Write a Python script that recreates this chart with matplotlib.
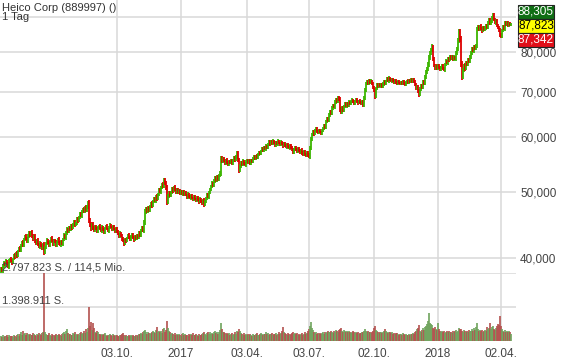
import matplotlib
matplotlib.use("Agg")
import matplotlib.pyplot as plt
import numpy as np
from matplotlib.patches import Rectangle
from matplotlib.ticker import NullLocator

plt.rcParams["font.family"] = ["Liberation Sans", "DejaVu Sans"]

# daily closes (EUR), one per trading day
closes = [
    38.6, 38.3, 38.9, 39.4, 39.1, 39.6, 39.2, 38.9, 39.5, 39.9,
    39.6, 39.3, 39.9, 40.4, 40.2, 40.7, 40.3, 40.9, 41.4, 41.1,
    41.7, 42.2, 41.8, 42.5, 43.1, 42.7, 42.3, 43.0, 43.6, 43.2,
    43.6, 43.1, 42.6, 43.0, 42.4, 42.0, 42.5, 41.9, 41.5, 42.0,
    41.7, 41.3, 41.8, 40.8, 41.4, 42.0, 42.5, 42.1, 41.7, 42.3,
    42.8, 42.4, 41.9, 42.5, 42.2, 41.7, 42.2, 42.6, 42.1, 41.8,
    42.3, 41.9, 42.6, 43.2, 42.8, 43.5, 44.1, 43.7, 44.3, 44.0,
    44.6, 44.2, 44.8, 45.2, 44.7, 45.0, 45.6, 45.3, 45.9, 46.4,
    46.1, 46.7, 47.2, 46.8, 47.4, 47.0, 47.6, 48.1, 45.4, 44.7,
    44.2, 44.8, 44.3, 43.9, 44.5, 44.1, 43.7, 44.3, 44.6, 44.2,
    43.8, 44.4, 44.0, 43.6, 44.2, 44.6, 44.1, 43.8, 44.3, 44.7,
    44.4, 44.0, 44.5, 44.1, 43.7, 44.2, 43.8, 43.4, 43.0, 43.5,
    43.1, 42.7, 42.4, 42.0, 42.6, 42.3, 42.8, 43.2, 42.9, 42.5,
    43.0, 43.3, 42.8, 42.5, 43.0, 42.7, 43.2, 42.9, 43.5, 43.2,
    43.8, 44.3, 43.9, 45.1, 46.7, 47.2, 46.8, 47.4, 47.0, 47.6,
    48.1, 47.7, 48.4, 48.9, 48.5, 49.2, 48.8, 49.6, 50.4, 50.0,
    50.7, 51.3, 50.9, 52.1, 51.5, 50.6, 48.3, 49.2, 49.8, 49.3,
    49.9, 50.5, 50.1, 50.8, 50.4, 49.9, 50.3, 49.8, 50.2, 49.7,
    50.1, 49.6, 50.0, 49.5, 49.9, 49.4, 49.1, 49.6, 49.2, 48.9,
    49.4, 49.0, 48.7, 49.2, 48.8, 48.5, 49.0, 48.6, 48.3, 48.8,
    48.4, 48.1, 48.6, 47.9, 48.4, 48.9, 49.5, 49.1, 49.8, 50.4,
    50.9, 51.5, 51.1, 51.8, 52.4, 52.0, 52.6, 52.2, 52.8, 53.2,
    56.0, 55.4, 55.9, 55.5, 55.0, 55.6, 55.2, 54.8, 55.4, 55.1,
    55.5, 55.0, 55.6, 56.1, 55.7, 56.3, 56.9, 55.5, 53.7, 54.5,
    55.2, 54.8, 55.4, 55.0, 54.7, 55.3, 55.6, 55.1, 55.5, 55.0,
    55.6, 55.3, 55.9, 56.3, 55.9, 56.4, 56.1, 56.7, 57.1, 56.8,
    57.3, 57.8, 57.4, 58.0, 57.7, 58.3, 58.0, 58.6, 59.1, 58.7,
    59.2, 58.8, 59.3, 58.9, 58.5, 59.1, 58.7, 59.3, 58.9, 58.6,
    59.1, 58.7, 58.3, 58.8, 58.4, 58.1, 58.6, 58.2, 57.9, 58.4,
    58.0, 57.6, 57.1, 57.7, 58.0, 57.6, 57.3, 57.8, 57.4, 57.1,
    57.5, 57.0, 56.7, 57.2, 56.8, 56.5, 57.0, 56.6, 56.3, 57.9,
    59.7, 60.6, 61.2, 60.7, 61.4, 61.8, 61.3, 61.0, 61.5, 61.1,
    60.8, 61.4, 61.9, 62.5, 62.1, 63.3, 64.0, 63.6, 64.7, 65.5,
    65.1, 66.2, 66.9, 66.5, 67.6, 68.2, 67.8, 68.6, 68.1, 66.0,
    65.4, 66.3, 65.8, 66.6, 67.2, 66.7, 67.3, 66.9, 67.6, 67.2,
    67.7, 68.1, 67.6, 67.3, 67.9, 68.2, 67.7, 67.4, 67.9, 67.5,
    67.2, 67.7, 66.9, 68.6, 70.4, 71.9, 72.5, 72.0, 72.7, 72.2,
    72.6, 71.9, 71.0, 70.3, 68.9, 70.8, 71.7, 71.2, 71.8, 71.3,
    71.7, 71.2, 71.9, 72.4, 72.0, 72.6, 73.1, 72.6, 73.3, 72.9,
    72.5, 73.0, 72.6, 72.2, 72.7, 72.3, 71.9, 72.5, 72.1, 71.8,
    72.3, 71.9, 72.4, 72.0, 71.7, 72.2, 72.6, 72.2, 72.8, 72.4,
    72.9, 72.5, 72.9, 72.3, 71.7, 70.8, 71.2, 70.1, 69.3, 70.6,
    71.5, 71.0, 72.3, 72.0, 73.5, 74.9, 75.6, 76.8, 78.5, 79.7,
    80.6, 81.4, 78.1, 76.4, 75.6, 76.3, 75.8, 76.5, 75.9, 75.4,
    75.9, 76.4, 75.7, 75.3, 76.7, 77.6, 77.1, 78.3, 77.9, 78.8,
    78.3, 78.8, 78.1, 78.6, 78.2, 79.7, 80.9, 83.1, 85.8, 83.5,
    77.0, 73.5, 75.2, 76.5, 75.6, 77.2, 76.7, 78.1, 77.5, 78.7,
    79.7, 80.9, 80.3, 81.5, 80.9, 81.8, 86.4, 87.2, 86.4, 87.3,
    86.6, 85.9, 86.9, 86.2, 86.8, 87.5, 87.0, 88.2, 89.1, 88.1,
    88.7, 89.7, 90.7, 89.3, 88.2, 88.9, 87.6, 86.9, 86.1, 84.8,
    84.5, 85.9, 87.1, 86.5, 88.4, 87.7, 88.3, 87.5, 88.2, 87.6,
    87.823,
]
first_open = 38.2

# daily high-low span beyond the body, tenths of a percent
spans = [
    12, 8, 15, 10, 6, 14, 9, 11, 16, 7,
    10, 13, 6, 9, 14, 8, 12, 10, 7, 15,
    11, 9, 13, 16, 8, 12, 10, 14, 9, 11,
    7, 13, 10, 8, 15, 11, 9, 12, 6, 14,
    10, 8, 12, 22, 11, 9, 13, 7, 10, 12,
    8, 11, 14, 9, 6, 12, 10, 8, 13, 9,
    11, 7, 10, 14, 9, 12, 15, 8, 11, 10,
    9, 12, 7, 10, 13, 8, 11, 14, 9, 12,
    10, 13, 8, 12, 9, 14, 11, 15, 20, 16,
    18, 10, 14, 9, 12, 8, 11, 10, 7, 9,
    8, 11, 7, 10, 12, 6, 9, 8, 11, 10,
    7, 9, 12, 8, 10, 6, 11, 9, 8, 12,
    10, 13, 9, 14, 8, 11, 7, 10, 12, 9,
    8, 10, 7, 11, 9, 12, 8, 10, 13, 11,
    12, 9, 14, 16, 18, 11, 13, 9, 12, 10,
    11, 14, 10, 12, 9, 13, 15, 10, 12, 11,
    13, 10, 14, 12, 11, 15, 22, 14, 12, 10,
    9, 12, 10, 8, 11, 9, 13, 10, 8, 11,
    10, 8, 12, 9, 11, 7, 10, 13, 9, 8,
    11, 9, 7, 12, 10, 8, 11, 9, 13, 10,
    9, 12, 8, 14, 10, 11, 13, 9, 12, 10,
    11, 13, 9, 12, 14, 10, 12, 11, 13, 12,
    16, 12, 10, 9, 11, 8, 12, 10, 9, 11,
    10, 12, 9, 11, 13, 10, 14, 12, 18, 13,
    11, 9, 12, 8, 10, 12, 9, 11, 8, 10,
    9, 11, 8, 10, 12, 9, 11, 8, 10, 9,
    11, 8, 10, 12, 9, 13, 10, 9, 11, 12,
    10, 8, 11, 9, 12, 10, 8, 11, 9, 10,
    12, 10, 14, 9, 11, 8, 10, 12, 9, 11,
    10, 12, 14, 9, 11, 8, 10, 12, 9, 11,
    10, 12, 9, 11, 13, 8, 10, 12, 11, 14,
    16, 12, 10, 11, 9, 12, 10, 8, 11, 9,
    10, 12, 9, 11, 10, 13, 12, 9, 11, 12,
    10, 13, 11, 9, 12, 10, 11, 12, 10, 17,
    14, 11, 12, 10, 13, 9, 11, 10, 12, 9,
    8, 10, 9, 11, 8, 10, 9, 12, 8, 10,
    9, 11, 10, 13, 15, 12, 10, 11, 9, 10,
    11, 9, 12, 13, 16, 12, 10, 9, 11, 8,
    10, 9, 11, 12, 10, 9, 11, 10, 12, 9,
    8, 10, 9, 11, 8, 10, 9, 8, 10, 9,
    8, 9, 10, 8, 9, 11, 8, 10, 9, 8,
    9, 10, 11, 9, 12, 13, 11, 14, 16, 12,
    11, 10, 12, 11, 13, 12, 14, 15, 17, 14,
    13, 16, 15, 12, 11, 10, 12, 11, 10, 9,
    10, 11, 9, 10, 12, 11, 10, 12, 11, 10,
    9, 11, 10, 12, 9, 13, 14, 15, 18, 16,
    22, 18, 14, 12, 13, 11, 12, 10, 11, 10,
    12, 11, 10, 13, 11, 12, 16, 12, 11, 10,
    11, 12, 10, 11, 9, 12, 10, 11, 13, 12,
    10, 12, 14, 11, 10, 12, 11, 10, 12, 15,
    14, 12, 11, 10, 12, 9, 11, 10, 9, 8,
    8,
]

# daily volume, thousand shares
volumes_k = [
    210, 180, 240, 160, 200, 190, 230, 170, 260, 210,
    190, 220, 170, 250, 200, 180, 230, 270, 210, 300,
    360, 240, 420, 280, 310, 250, 330, 280, 240, 300,
    260, 230, 310, 270, 240, 220, 290, 250, 330, 280,
    240, 310, 380, 2798, 350, 280, 230, 260, 320, 250,
    220, 280, 240, 210, 260, 300, 250, 230, 280, 240,
    220, 270, 310, 360, 290, 420, 510, 330, 280, 300,
    260, 240, 310, 280, 350, 270, 230, 300, 260, 330,
    380, 290, 340, 420, 310, 480, 360, 540, 1410, 620,
    780, 450, 740, 520, 380, 330, 410, 360, 300, 280,
    250, 290, 230, 270, 310, 240, 220, 260, 230, 280,
    250, 210, 270, 230, 190, 240, 260, 220, 200, 250,
    230, 270, 310, 240, 200, 260, 220, 190, 240, 210,
    230, 200, 250, 220, 190, 240, 210, 260, 300, 280,
    330, 290, 360, 420, 460, 350, 300, 380, 330, 290,
    310, 360, 420, 380, 330, 460, 590, 380, 420, 350,
    400, 330, 480, 540, 380, 460, 820, 520, 430, 360,
    300, 340, 280, 260, 310, 240, 290, 230, 270, 250,
    220, 280, 330, 250, 290, 230, 260, 220, 300, 240,
    280, 250, 310, 230, 260, 290, 240, 220, 270, 250,
    230, 280, 320, 360, 290, 250, 330, 380, 300, 350,
    290, 330, 280, 370, 400, 310, 350, 290, 380, 460,
    740, 480, 390, 350, 320, 290, 340, 270, 310, 260,
    280, 320, 250, 300, 360, 280, 400, 350, 480, 420,
    330, 290, 260, 310, 240, 280, 230, 270, 250, 300,
    260, 220, 290, 250, 230, 270, 310, 260, 240, 290,
    330, 270, 250, 300, 280, 360, 290, 320, 260, 300,
    280, 330, 250, 290, 270, 310, 240, 280, 350, 300,
    320, 420, 590, 380, 330, 290, 260, 310, 280, 250,
    300, 340, 380, 290, 330, 270, 310, 260, 290, 250,
    280, 320, 260, 300, 350, 290, 330, 420, 480, 620,
    800, 520, 440, 380, 330, 360, 300, 340, 290, 320,
    280, 310, 350, 300, 380, 330, 360, 410, 350, 390,
    430, 380, 340, 420, 370, 450, 400, 380, 460, 500,
    520, 430, 390, 460, 410, 380, 430, 370, 400, 350,
    330, 380, 420, 360, 340, 390, 320, 360, 300, 340,
    310, 350, 380, 420, 480, 400, 360, 420, 380, 350,
    330, 380, 420, 540, 620, 460, 400, 360, 330, 380,
    350, 310, 360, 400, 480, 420, 370, 330, 390, 350,
    320, 360, 300, 340, 290, 330, 310, 280, 260, 300,
    280, 250, 310, 270, 240, 290, 260, 230, 280, 250,
    270, 300, 340, 280, 360, 420, 480, 520, 650, 420,
    380, 440, 520, 460, 560, 600, 680, 820, 1150, 760,
    720, 640, 540, 480, 560, 500, 440, 740, 480, 420,
    380, 420, 360, 400, 340, 380, 420, 360, 400, 350,
    380, 340, 420, 360, 400, 450, 380, 430, 520, 480,
    480, 420, 380, 450, 400, 360, 420, 380, 440, 400,
    430, 480, 420, 520, 460, 560, 740, 480, 420, 460,
    400, 450, 380, 430, 470, 400, 560, 480, 520, 740,
    500, 560, 620, 480, 440, 520, 600, 680, 640, 1030,
    620, 480, 420, 380, 440, 360, 400, 350, 420, 380,
    300,
]

tick_pos = [116, 180, 246, 308, 373, 437, 500]
tick_labels = ["03.10.", "2017", "03.04.", "03.07.", "02.10.", "2018", "02.04."]
price_ticks = [40, 50, 60, 70, 80, 90]
price_labels = ["40,000", "50,000", "60,000", "70,000", "80,000", ""]
vol_max = 2797.823
quote_vals = ["88,305", "87,823", "87,342"]

UP, DOWN = "#3cb500", "#dd0000"
VUP, VDOWN = "#6ea35c", "#b3504e"
GRID = "#d9d9d9"
TXT = "#444444"

W, H = 561, 361
fig = plt.figure(figsize=(W / 100, H / 100), dpi=100)

closes = np.array(closes)
opens = np.concatenate([[first_open], closes[:-1]])
wick = np.array(spans) / 2000.0
x = np.arange(len(closes))
up = closes >= opens
lo = np.minimum(opens, closes) * (1 - wick)
hi = np.maximum(opens, closes) * (1 + wick)

# price panel (log scale)
ax = fig.add_axes([0, 88 / H, 516 / W, 273 / H])
ax.set_yscale("log")
ax.vlines(x, lo, hi, colors=np.where(up, UP, DOWN), lw=1.3, zorder=3)
ax.set_xlim(-0.5, 515.5)
ax.set_ylim(38.03, 95.3)
ax.set_yticks(price_ticks, price_labels)
ax.yaxis.set_minor_locator(NullLocator())
ax.yaxis.tick_right()
ax.set_xticks(tick_pos)
ax.tick_params(axis="x", labelbottom=False, length=0)
ax.tick_params(axis="y", length=0, pad=3, labelsize=8.5, labelcolor=TXT)
ax.grid(color=GRID, lw=1.1)
ax.set_axisbelow(True)
for s in ax.spines.values():
    s.set_visible(False)

# volume panel
axv = fig.add_axes([0, 20 / H, 516 / W, 68 / H])
axv.vlines(x, 0, volumes_k, colors=np.where(up, VUP, VDOWN), lw=1.2, zorder=3)
axv.set_xlim(-0.5, 515.5)
axv.set_ylim(0, vol_max)
axv.set_yticks([vol_max / 2, vol_max], ["", ""])
axv.set_xticks(tick_pos, tick_labels)
axv.tick_params(axis="x", length=0, pad=5, labelsize=8.5, labelcolor=TXT)
axv.tick_params(axis="y", length=0)
axv.grid(color=GRID, lw=1.1)
axv.set_axisbelow(True)
for s in axv.spines.values():
    s.set_visible(False)

# overlay in pixel coordinates for labels and quote boxes
ov = fig.add_axes([0, 0, 1, 1], zorder=10)
ov.set_xlim(0, W)
ov.set_ylim(H, 0)
ov.axis("off")
ov.text(2, 8, "Heico Corp (889997) ()", fontsize=8, color="#333333", va="center")
ov.text(2, 17, "1 Tag", fontsize=8, color="#333333", va="center")
ov.text(2, 267, "2.797.823 S. / 114,5 Mio.", fontsize=8, color=TXT, va="center")
ov.text(2, 301, "1.398.911 S.", fontsize=8, color=TXT, va="center")

box_style = [("#0f6e14", "white"), ("#ffff00", "black"), ("#e0101a", "white")]
for k, (val, (fc, tc)) in enumerate(zip(quote_vals, box_style)):
    y0 = 5 + k * 14
    ov.add_patch(Rectangle((518, y0), 36, 13.5, fc=fc, ec="#222222", lw=0.8))
    ov.text(536, y0 + 7, val, fontsize=8.5, color=tc, ha="center", va="center")

fig.savefig("out.png", dpi=100)
